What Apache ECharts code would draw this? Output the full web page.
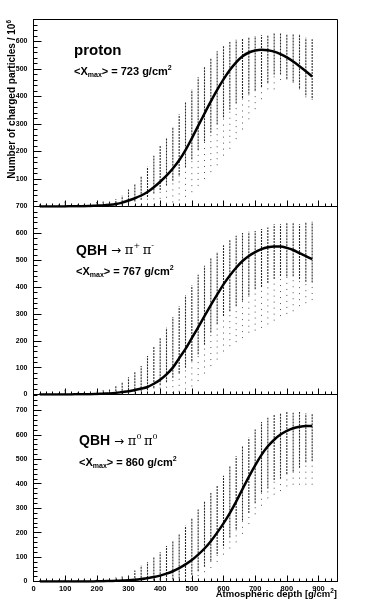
<!DOCTYPE html>
<html>
<head>
<meta charset="utf-8">
<script src="https://cdn.jsdelivr.net/npm/echarts@6.0.0/dist/echarts.min.js"></script>
<style>
  html, body { margin: 0; padding: 0; background: #fff; }
  #chart { width: 382px; height: 604px; }
</style>
</head>
<body>
<div id="chart"></div>
<script>
// atmospheric depth of each shower column [g/cm2]
var depth = [20, 40, 60, 80, 100, 120, 140, 160, 180, 200, 220, 240, 260, 280, 300, 320, 340, 360, 380, 400, 420, 440,
  460, 480, 500, 520, 540, 560, 580, 600, 620, 640, 660, 680, 700, 720, 740, 760, 780, 800, 820, 840, 860, 880]

// proton: mean profile, column top, bottom of dense band, lowest stray point (x 10^6 particles)
var protonMean = [0, 0, 0, 0, 0, 1, 1, 1, 2, 3, 4, 6, 9, 14, 22, 30, 40, 53, 70, 90, 112, 138,
  168, 205, 248, 293, 338, 382, 424, 462, 496, 524, 546, 560, 567, 570, 568, 563, 554, 542, 527, 510, 492, 473]
var protonTop = [8, 6, 6, 8, 18, 8, 8, 10, 12, 16, 18, 20, 26, 39, 62, 80, 110, 145, 185, 220, 250, 290,
  335, 378, 425, 470, 510, 538, 565, 584, 598, 606, 611, 614, 620, 623, 624, 629, 629, 627, 629, 627, 614, 608]
var protonLow = [0, 0, 0, 0, 0, 0, 0, 0, 0, 0, 0, 0, 2, 5, 12, 18, 25, 35, 47, 60, 76, 94,
  115, 142, 172, 205, 237, 268, 298, 325, 352, 375, 395, 410, 422, 435, 450, 480, 480, 465, 455, 430, 405, 395]
var protonMin = [0, 0, 0, 0, 0, 0, 0, 0, 0, 0, 0, 0, 0, 0, 0, 0, 2, 3, 4, 6, 10, 15,
  22, 35, 52, 75, 100, 125, 150, 185, 210, 245, 280, 317, 354, 390, 426, 426, 460, 462, 450, 426, 397, 388]

// QBH -> pi+ pi-
var pipiMean = [0, 0, 0, 0, 0, 0, 1, 1, 1, 2, 3, 4, 6, 9, 12, 17, 22, 28, 40, 55, 75, 100,
  135, 170, 210, 250, 292, 333, 372, 410, 443, 472, 497, 516, 530, 541, 548, 551, 551, 546, 538, 526, 515, 504]
var pipiTop = [5, 5, 6, 6, 18, 6, 7, 8, 10, 12, 16, 22, 32, 46, 64, 84, 106, 143, 177, 211, 249, 289,
  328, 370, 406, 446, 479, 506, 531, 556, 576, 591, 601, 606, 609, 616, 622, 634, 634, 638, 638, 634, 643, 643]
var pipiLow = [0, 0, 0, 0, 0, 0, 0, 0, 0, 0, 0, 0, 1, 3, 5, 8, 12, 16, 24, 34, 46, 62,
  80, 100, 125, 150, 185, 231, 262, 292, 310, 329, 350, 370, 392, 400, 415, 430, 441, 440, 440, 430, 420, 417]
var pipiMin = [0, 0, 0, 0, 0, 0, 0, 0, 0, 0, 0, 0, 0, 0, 0, 0, 0, 0, 0, 0, 3, 5,
  10, 19, 30, 50, 78, 106, 130, 160, 180, 195, 210, 230, 238, 248, 261, 275, 292, 300, 310, 329, 340, 352]

// QBH -> pi0 pi0
var pi0Mean = [0, 0, 0, 0, 0, 0, 0, 0, 0, 1, 1, 2, 3, 4, 5, 7, 10, 14, 18, 24, 32, 42,
  55, 70, 88, 110, 135, 165, 200, 238, 280, 327, 378, 428, 475, 518, 553, 580, 601, 616, 627, 633, 636, 636]
var pi0Top = [5, 5, 6, 6, 8, 6, 6, 8, 10, 12, 12, 14, 16, 20, 25, 45, 65, 80, 100, 120, 145, 165,
  195, 228, 260, 295, 328, 362, 395, 433, 474, 512, 553, 588, 622, 652, 670, 683, 690, 693, 690, 693, 687, 687]
var pi0Low = [0, 0, 0, 0, 0, 0, 0, 0, 0, 0, 0, 0, 0, 0, 1, 2, 3, 3, 4, 5, 6, 8,
  12, 18, 28, 42, 60, 85, 112, 145, 180, 215, 250, 280, 320, 365, 380, 415, 420, 440, 450, 465, 488, 492]
var pi0Min = [0, 0, 0, 0, 0, 0, 0, 0, 0, 0, 0, 0, 0, 0, 0, 0, 0, 0, 0, 0, 0, 0,
  4, 7, 12, 22, 38, 55, 80, 110, 135, 160, 195, 235, 275, 310, 340, 355, 370, 389, 396, 396, 396, 396]

var xMax = 960
var font = 'Liberation Sans'

var panels = [
  { top: 19.5, height: 187, ymax: 680, showZero: false, showMax: false,
    mean: protonMean, hi: protonTop, lo: protonLow, min: protonMin },
  { top: 206.5, height: 188, ymax: 700, showZero: true, showMax: true,
    mean: pipiMean, hi: pipiTop, lo: pipiLow, min: pipiMin },
  { top: 394.5, height: 187, ymax: 765, showZero: true, showMax: false,
    mean: pi0Mean, hi: pi0Top, lo: pi0Low, min: pi0Min }
]

function column(color, width, dash) {
  return function (params, api) {
    var a = api.coord([api.value(0), api.value(1)])
    var b = api.coord([api.value(0), api.value(2)])
    return {
      type: 'line',
      shape: { x1: a[0], y1: a[1], x2: b[0], y2: b[1] },
      style: { stroke: color, lineWidth: width, lineDash: dash }
    }
  }
}

var grids = [], xAxes = [], yAxes = [], series = []
panels.forEach(function (p, i) {
  var last = i === panels.length - 1
  grids.push({ left: 33.5, width: 304, top: p.top, height: p.height, show: true,
    borderColor: '#000', borderWidth: 1, backgroundColor: 'transparent' })

  // one axis per side; ROOT-like ticks point into the frame, minor ticks every 20
  xAxes.push({ gridIndex: i, type: 'value', position: 'bottom', min: 0, max: xMax, interval: 100,
    axisLine: { show: true, lineStyle: { color: '#000', width: 1 } },
    axisTick: { show: true, inside: true, length: 6, lineStyle: { color: '#000', width: 1 } },
    minorTick: { show: true, splitNumber: 5, length: 3, lineStyle: { color: '#000', width: 1 } },
    axisLabel: { show: last, showMaxLabel: false, margin: 3, fontSize: 7.5, fontWeight: 'bold',
      fontFamily: font, color: '#000' },
    splitLine: { show: false }, minorSplitLine: { show: false } })

  yAxes.push({ gridIndex: i, type: 'value', position: 'left', min: 0, max: p.ymax, interval: 100,
    axisLine: { show: true, lineStyle: { color: '#000', width: 1 } },
    axisTick: { show: true, inside: true, length: 8, lineStyle: { color: '#000', width: 1 } },
    minorTick: { show: true, splitNumber: 5, length: 4, lineStyle: { color: '#000', width: 1 } },
    axisLabel: { showMinLabel: p.showZero, showMaxLabel: p.showMax, margin: 6, fontSize: 7,
      fontWeight: 'bold', fontFamily: font, color: '#000' },
    splitLine: { show: false }, minorSplitLine: { show: false } })

  var sparse = depth.map(function (d, k) { return [d, p.min[k], p.lo[k]] })
  var dense = depth.map(function (d, k) { return [d, p.lo[k], p.hi[k]] })
  var curve = depth.map(function (d, k) { return [d, p.mean[k]] })

  series.push({ type: 'custom', xAxisIndex: i, yAxisIndex: i, clip: true, silent: true,
    renderItem: column('#555', 1, [1, 5]), encode: { x: 0, y: [1, 2] }, data: sparse })
  series.push({ type: 'custom', xAxisIndex: i, yAxisIndex: i, clip: true, silent: true,
    renderItem: column('#2a2a2a', 1.1, [2, 1]), encode: { x: 0, y: [1, 2] }, data: dense })
  series.push({ type: 'line', xAxisIndex: i, yAxisIndex: i, smooth: 0.35, symbol: 'none',
    clip: true, silent: true, z: 5, lineStyle: { color: '#000', width: 2.5 }, data: curve })
})

var rich = {
  m: { fontFamily: font, fontWeight: 'bold', fontSize: 11, lineHeight: 14, color: '#000' },
  b: { fontFamily: font, fontWeight: 'bold', fontSize: 14, lineHeight: 18, color: '#000' },
  big: { fontFamily: font, fontWeight: 'bold', fontSize: 15, lineHeight: 18, color: '#000' },
  s: { fontFamily: font, fontWeight: 'bold', fontSize: 7, lineHeight: 8, verticalAlign: 'bottom', color: '#000' },
  p: { fontFamily: font, fontWeight: 'bold', fontSize: 7, lineHeight: 8, verticalAlign: 'top', color: '#000' },
  a: { fontFamily: 'DejaVu Sans', fontWeight: 'normal', fontSize: 12, lineHeight: 18, color: '#000' },
  g: { fontFamily: 'DejaVu Serif', fontWeight: 'normal', fontSize: 13, lineHeight: 18, color: '#000' },
  q: { fontFamily: 'DejaVu Serif', fontWeight: 'normal', fontSize: 8, lineHeight: 11, verticalAlign: 'top', color: '#000' },
  t: { fontFamily: font, fontWeight: 'bold', fontSize: 10, lineHeight: 13, color: '#000' },
  x: { fontFamily: font, fontWeight: 'bold', fontSize: 9.5, lineHeight: 12, color: '#000' },
  tp: { fontFamily: font, fontWeight: 'bold', fontSize: 6.5, lineHeight: 7, verticalAlign: 'top', color: '#000' }
}

function label(x, y, text, opts) {
  var style = { text: text, rich: rich, textAlign: 'left', textVerticalAlign: 'middle', verticalAlign: 'middle' }
  var el = { type: 'text', x: x, y: y, silent: true, style: style }
  if (opts) {
    if (opts.align) style.textAlign = opts.align
    if (opts.rotation) el.rotation = opts.rotation
  }
  return el
}

var graphics = [
  label(74, 50.5, '{big|proton}'),
  label(74, 72, '{m|<X}{s|max}{m|> = 723 g/cm}{p|2}'),
  label(76, 251, '{b|QBH }{a|\u2192 }{g|\u03c0}{q|+ }{g|\u03c0}{q|-}'),
  label(76, 272, '{m|<X}{s|max}{m|> = 767 g/cm}{p|2}'),
  label(79, 441.5, '{b|QBH }{a|\u2192 }{g|\u03c0}{q|0 }{g|\u03c0}{q|0}'),
  label(79, 462.5, '{m|<X}{s|max}{m|> = 860 g/cm}{p|2}'),
  label(12, 20, '{t|Number of charged particles / 10}{tp|6}', { align: 'right', rotation: Math.PI / 2 }),
  label(337, 594, '{x|Atmospheric depth [g/cm}{tp|2}{x|]}', { align: 'right' })
]

var chart = echarts.init(document.getElementById('chart'))
chart.setOption({
  animation: false,
  grid: grids,
  xAxis: xAxes,
  yAxis: yAxes,
  series: series,
  graphic: graphics
})
</script>
</body>
</html>
